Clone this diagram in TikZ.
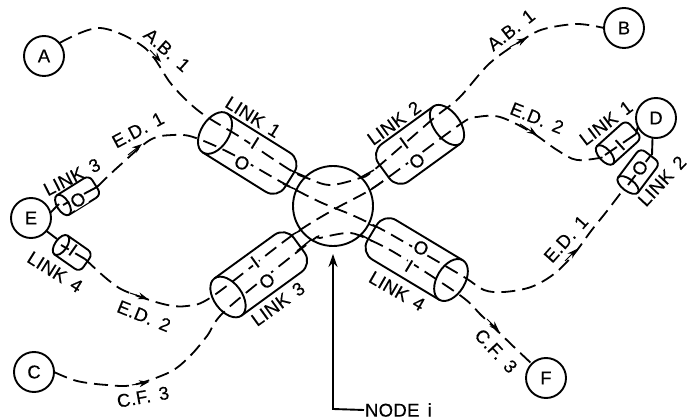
\documentclass[tikz,border=0pt]{standalone}
\usepackage{fontspec}
\setmainfont[LetterSpace=2,WordSpace=1.5,FakeBold=0.35]{Liberation Sans}
\usetikzlibrary{arrows.meta, calc, positioning}

\tikzset{
  station/.style={circle, draw, line width=1.9pt, minimum size=40pt, inner sep=0pt, outer sep=0pt},
  hubnode/.style={circle, draw, line width=1.9pt, minimum size=80pt, inner sep=0pt, outer sep=0pt},
  route/.style={line width=1.8pt, dash pattern=on 14pt off 7pt},
  lbl/.style={inner sep=0pt},
  lane/.style={fill=white, inner sep=1pt},
}

\begin{document}
\begin{tikzpicture}[
    x=1pt, y=-1pt,
    line width=1.9pt,
    every node/.style={font=\fontsize{18.5}{18.5}\selectfont},
  ]
  \useasboundingbox (0,0) rectangle (688,419);

  % Stationen und Knoten
  \node[station] (A) at (44,56) {A};
  \node[station] (B) at (624,28) {B};
  \node[station] (C) at (34,372) {C};
  \node[station] (D) at (656,118) {D};
  \node[station] (E) at (31,218) {E};
  \node[station] (F) at (546,378) {F};
  \node[hubnode] (hub) at (333,206) {};

  % Zylinder: Mitte der Ellipse, Winkel, Laenge, Radien, Ecke
  \foreach \cx/\cy/\ang/\len/\rx/\ry/\rc in {
      215/133/-32/88/14/23/14, 447/125/36/-78/13/23/14,
      228/297/36/88/14/23/14, 451/280/-31/-92/14/23/14,
      63/205/32/38/6/11.5/6, 61/245/-35/31/6/11.5/6,
      605/155/42/39/6/12/6, 628/185/53/37/6/12.5/6} {
    \begin{scope}[shift={(\cx,\cy)}, rotate=\ang]
      \draw (0,0) ellipse [x radius=\rx pt, y radius=\ry pt];
      \draw[rounded corners=\rc pt] (0,\ry) -- (\len,\ry) -- (\len,-\ry) -- (0,-\ry);
    \end{scope}
  }

  % Leitungen
  % A.B.1
  \draw[route] plot[smooth, tension=0.55] coordinates {(A.40) (100,28) (145,48) (172,85) (200,112)
      (240,137) (290,170) (307,178) (330,185) (360,178) (374,170) (434,118) (459,98) (490,63)
      (524,39) (544,29) (577,24) (B.west)};
  % E.D.1
  \draw[route] plot[smooth, tension=0.55] coordinates {(97,187) (118,167) (150,140) (173,135) (193,137)
      (230,153) (283,183) (320,202) (352,215) (381,229) (411,246) (464,277) (484,290) (504,292)
      (531,287) (554,274) (574,254) (591,231) (607,211) (623,190)};
  % E.D.2
  \draw[route] plot[smooth, tension=0.55] coordinates {(85,259) (107,279) (125,291) (163,304) (187,306)
      (213,296) (290,237) (333,210) (370,190) (401,168) (462,123) (477,117) (500,117)
      (531,132) (557,150) (577,160) (605,157)};
  % C.F.3
  \draw[route] plot[smooth, tension=0.55] coordinates {(C.east) (77,381) (107,385) (133,385) (170,372)
      (190,356) (207,336) (227,309) (310,242) (320,238) (347,233) (363,237) (397,254) (461,296)
      (482,316) (514,347) (F.135)};

  % Stummel an den Stationen und am Knoten
  \coordinate (e3) at (59,204);
  \coordinate (e4) at (57,239);
  \coordinate (d1) at (636,134);
  \coordinate (d2) at (652,155);
  \draw (E.15) -- (e3);
  \draw (E.-40) -- (e4);
  \draw (D.-155) -- (d1);
  \draw (D.-100) -- (d2);
  \foreach \hang/\nx/\ny in {133/290/170, 156/283/184, 46/374/170, 23/383/181,
      217/290/236, 237/297/251, -27/377/227, -46/372/241} {
    \draw[line width=1.5pt] (hub.\hang) -- (\nx,\ny);
  }

  % kurze Striche in den kleinen Zylindern
  \draw (63,205) -- (97,187);
  \draw (61,245) -- (85,259);
  \draw (605,155) -- (636,134);
  \draw (628,185) -- (651,155);

  % Pfeilspitzen auf den Leitungen
  \foreach \ax/\ay/\bx/\by in {150/50/161/62, 510/47/527/38, 128/155/142/144, 520/124/537/135,
      130/293/148/299, 132/385/149/382, 565/261/577/249, 487/319/499/331} {
    \draw[line width=1pt, -{Stealth[length=10pt, width=7pt]}] (\ax,\ay) -- (\bx,\by);
  }

  % I und O
  \node[lane, rotate=-32] (i1) at (255,143) {I};
  \node[lane, rotate=-32] (o1) at (242,163) {O};
  \node[lane, rotate=36] (i2) at (404,143) {I};
  \node[lane, rotate=36] (o2) at (417,161) {O};
  \node[lane, rotate=36] (i3) at (255,262) {I};
  \node[lane, rotate=36] (o3) at (267,281) {O};
  \node[lane, rotate=-31] (i4) at (409,266) {I};
  \node[lane, rotate=-31] (o4) at (421,248) {O};
  \node[lane, rotate=32] (o5) at (78,200) {O};
  \node[lane, rotate=-35] (i5) at (73,250) {I};
  \node[lane, rotate=42] (i6) at (620,145) {I};
  \node[lane, rotate=53] (o6) at (640,168) {O};

  % Beschriftung
  \node[lbl, rotate=-32] (link1) at (253,117) {LINK 1};
  \node[lbl, rotate=36] (link2) at (394,123) {LINK 2};
  \node[lbl, rotate=36] (link3) at (278,304) {LINK 3};
  \node[lbl, rotate=-30] (link4) at (397,291) {LINK 4};
  \node[lbl, rotate=27] (link3e) at (72,177) {LINK 3};
  \node[lbl, rotate=-32] (link4e) at (55,272) {LINK 4};
  \node[lbl, rotate=37] (link1d) at (606,123) {LINK 1};
  \node[lbl, rotate=47] (link2d) at (662,181) {LINK 2};
  \node[lbl, rotate=-42] (ab1) at (167,50) {A.B. 1};
  \node[lbl, rotate=38] (ab2) at (511,30) {A.B. 1};
  \node[lbl, rotate=28] (ed1) at (138,130) {E.D. 1};
  \node[lbl, rotate=-22] (ed2) at (537,118) {E.D. 2};
  \node[lbl, rotate=-22] (ed3) at (144,316) {E.D. 2};
  \node[lbl, rotate=48] (ed4) at (566,239) {E.D. 1};
  \node[lbl, rotate=10] (cf1) at (143,397) {C.F. 3};
  \node[lbl, rotate=-47] (cf2) at (496,351) {C.F. 3};

  % Knoten i
  \node[lbl, anchor=west] (nodei) at (364,410) {NODE i};
  \coordinate (hubtip) at (333,254);
  \draw[-{Stealth[length=13pt, width=9pt]}] (nodei.west) -- (333,409) -- (hubtip);
\end{tikzpicture}
\end{document}
